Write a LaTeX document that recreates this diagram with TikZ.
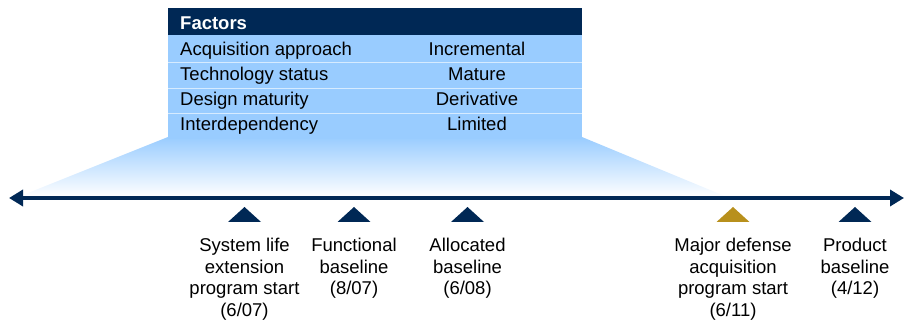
\documentclass[tikz,border=0pt]{standalone}
\usepackage{fontspec}
\setmainfont{Liberation Sans}
\usetikzlibrary{arrows.meta,calc}
\definecolor{navy}{HTML}{002855}
\definecolor{gold}{HTML}{B8901C}
\definecolor{lblue}{HTML}{99CCFF}
\definecolor{sepcol}{HTML}{D6EBFF}
\tikzset{
  txt/.style={font=\fontsize{18.5}{21.5}\selectfont, inner sep=0pt, text=black},
  hdrbox/.style={fill=navy, draw=none, minimum width=414pt, minimum height=27pt, inner sep=0pt, anchor=north west},
  rowbox/.style={fill=lblue, draw=none, minimum width=414pt, inner sep=0pt, anchor=north west},
  sepline/.style={draw=sepcol, line width=1pt},
  factor/.style={txt, anchor=base west},
  value/.style={txt, anchor=base},
  axis/.style={draw=navy, line width=4pt, {Triangle[length=14pt,width=16pt]}-{Triangle[length=14pt,width=16pt]}},
  mslbl/.style={txt, align=center, anchor=north},
}
\begin{document}
\begin{tikzpicture}[x=1pt,y=-1pt]
\useasboundingbox (0,0) rectangle (905,323);
% fan (drawn first)
\shade[top color=lblue, bottom color=white] (168,137) -- (582,137) -- (727,197) -- (18,197) -- cycle;
% table
\node[hdrbox] (hdr) at (168,8) {};
\node[rowbox, minimum height=27pt] (row1) at (168,35) {};
\node[rowbox, minimum height=26pt] (row2) at (168,62) {};
\node[rowbox, minimum height=25.5pt] (row3) at (168,88) {};
\node[rowbox, minimum height=25pt] (row4) at (168,113.5) {};
\draw[sepline] (row1.south west) -- (row1.south east);
\draw[sepline] (row2.south west) -- (row2.south east);
\draw[sepline] (row3.south west) -- (row3.south east);
\node[txt, anchor=base west, text=white, font=\fontsize{18.5}{21.5}\selectfont\bfseries] (hdrtxt) at (180,29.5) {Factors};
\node[factor] (f1) at (180,55.5) {Acquisition approach};
\node[factor] (f2) at (180,81) {Technology status};
\node[factor] (f3) at (180,106) {Design maturity};
\node[factor] (f4) at (180,131) {Interdependency};
\node[value] (v1) at (477,55.5) {Incremental};
\node[value] (v2) at (477,81) {Mature};
\node[value] (v3) at (477,106) {Derivative};
\node[value] (v4) at (477,131) {Limited};
% axis
\coordinate (axl) at (9,198);
\coordinate (axr) at (904,198);
\draw[axis] (axl) -- (axr);
% milestones
\coordinate (t1) at (244.5,207);
\coordinate (t2) at (354,207);
\coordinate (t3) at (467.5,207);
\coordinate (t4) at (733,207);
\coordinate (t5) at (855,207);
\fill[navy] (t1) -- ++(16.5,15) -- ++(-33,0) -- cycle;
\fill[navy] (t2) -- ++(16.5,15) -- ++(-33,0) -- cycle;
\fill[navy] (t3) -- ++(16.5,15) -- ++(-33,0) -- cycle;
\fill[gold] (t4) -- ++(16.5,15) -- ++(-33,0) -- cycle;
\fill[navy] (t5) -- ++(16.5,15) -- ++(-33,0) -- cycle;
\node[mslbl] (l1) at ($(t1)+(0,31)$) {System life\\extension\\program start\\(6/07)};
\node[mslbl] (l2) at ($(t2)+(0,31)$) {Functional\\baseline\\(8/07)};
\node[mslbl] (l3) at ($(t3)+(0,31)$) {Allocated\\baseline\\(6/08)};
\node[mslbl] (l4) at ($(t4)+(0,31)$) {Major defense\\acquisition\\program start\\(6/11)};
\node[mslbl] (l5) at ($(t5)+(0,31)$) {Product\\baseline\\(4/12)};
\end{tikzpicture}
\end{document}
